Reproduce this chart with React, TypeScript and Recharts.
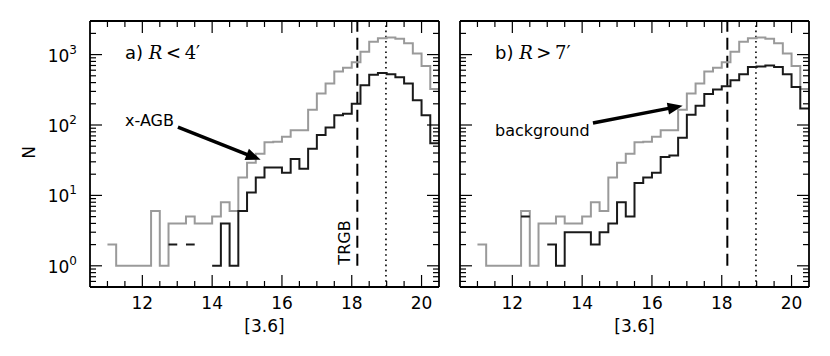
import React from 'react';
import { LineChart, Line, XAxis, YAxis, ReferenceLine } from 'recharts';

// histogram bins: 0.25 mag wide, first edge at 11.0
const binStart = 11.0;
const binWidth = 0.25;

// all sources (gray, same in both panels)
const allCounts = [
  2, 1, 1, 1, 1, 6, 1, 4, 4, 5, 4, 4, 5, 8, 6, 18, 29, 39, 57, 58, 68, 84, 84, 165, 280, 390, 575, 650, 780, 1100,
  1520, 1700, 1750, 1680, 1450, 1040, 690, 325,
];
// panel a, R < 4'
const innerCounts = [
  0, 0, 0, 0, 0, 0, 0, 2, 0, 2, 0, 0, 1, 4, 1, 6, 11, 18, 25, 25, 21, 33, 24, 46, 72, 92, 138, 145, 201, 366, 519,
  547, 525, 478, 387, 225, 138, 55,
];
// panel b, R > 7'
const outerCounts = [
  0, 0, 0, 0, 0, 5, 0, 0, 2, 1, 3, 3, 3, 2, 3, 4, 8, 5, 15, 18, 21, 35, 37, 66, 140, 188, 276, 318, 354, 431, 525,
  665, 680, 700, 665, 525, 347, 171,
];

const xMajor = [12, 14, 16, 18, 20];
const xTicks = [11, 11.5, 12, 12.5, 13, 13.5, 14, 14.5, 15, 15.5, 16, 16.5, 17, 17.5, 18, 18.5, 19, 19.5, 20];
const yMajor = [1, 10, 100, 1000];
const yExp: Record<number, string> = { 1: '0', 10: '1', 100: '2', 1000: '3' };
const yTicks = [
  0.5, 0.6, 0.7, 0.8, 0.9, 1, 2, 3, 4, 5, 6, 7, 8, 9, 10, 20, 30, 40, 50, 60, 70, 80, 90, 100, 200, 300, 400, 500,
  600, 700, 800, 900, 1000, 2000,
];

const trgbMag = 18.16;
const peakMag = 18.98;

// arrows: [from, to] in data units
const agbArrow = [{ x: 13.02, y: 93 }, { x: 15.39, y: 32 }];
const bgArrow = [{ x: 14.31, y: 107 }, { x: 16.88, y: 188 }];

const TOP = 21;
const BOTTOM = 287;
const FONT = 'DejaVu Sans';

function toSteps(counts: number[]) {
  const pts: { x: number; y: number | null }[] = [];
  counts.forEach((n, i) => {
    const lo = binStart + i * binWidth;
    const hi = lo + binWidth;
    if (n > 0) {
      pts.push({ x: lo, y: n });
      pts.push({ x: hi, y: n });
    } else {
      pts.push({ x: lo + binWidth / 2, y: null });
    }
  });
  return pts;
}

const Arrow = (p: any) => {
  const { x1, y1, x2, y2 } = p;
  const dx = x2 - x1;
  const dy = y2 - y1;
  const L = Math.hypot(dx, dy) || 1;
  const ux = dx / L;
  const uy = dy / L;
  const hl = 15;
  const hw = 6;
  const bx = x2 - ux * hl;
  const by = y2 - uy * hl;
  return (
    <g>
      <line x1={x1} y1={y1} x2={bx + ux * 2} y2={by + uy * 2} stroke="#000" strokeWidth={3.5} />
      <polygon points={`${x2},${y2} ${bx - uy * hw},${by + ux * hw} ${bx + uy * hw},${by - ux * hw}`} fill="#000" />
    </g>
  );
};

function Panel({ counts, plotLeft, plotRight, width, showYLabels, arrow }: any) {
  const bottomTick = (props: any) => {
    const { x, payload } = props;
    const major = xMajor.includes(payload.value);
    return (
      <g>
        <line x1={x} x2={x} y1={BOTTOM} y2={BOTTOM - (major ? 12 : 6)} stroke="#000" strokeWidth={1.2} />
        {major && (
          <text x={x} y={308.5} textAnchor="middle" fontFamily={FONT} fontSize={17} fill="#000">
            {payload.value}
          </text>
        )}
      </g>
    );
  };
  const topTick = (props: any) => {
    const { x, payload } = props;
    const major = xMajor.includes(payload.value);
    return <line x1={x} x2={x} y1={TOP} y2={TOP + (major ? 12 : 6)} stroke="#000" strokeWidth={1.2} />;
  };
  const leftTick = (props: any) => {
    const { y, payload } = props;
    const major = yMajor.includes(payload.value);
    return (
      <g>
        <line x1={plotLeft} x2={plotLeft + (major ? 12 : 6)} y1={y} y2={y} stroke="#000" strokeWidth={1.2} />
        {major && showYLabels && (
          <text x={77} y={y + 7} textAnchor="end" fontFamily={FONT} fontSize={17} fill="#000">
            10
            <tspan dy={-8} fontSize={12}>
              {yExp[payload.value]}
            </tspan>
          </text>
        )}
      </g>
    );
  };
  const rightTick = (props: any) => {
    const { y, payload } = props;
    const major = yMajor.includes(payload.value);
    return <line x1={plotRight} x2={plotRight - (major ? 12 : 6)} y1={y} y2={y} stroke="#000" strokeWidth={1.2} />;
  };
  const axisLine = { stroke: '#000', strokeWidth: 1.8 };

  return (
    <LineChart width={width} height={356} margin={{ top: 0, right: 0, bottom: 0, left: 0 }}>
      <XAxis
        dataKey="x"
        type="number"
        domain={[10.5, 20.5]}
        allowDataOverflow
        ticks={xTicks}
        interval={0}
        tick={bottomTick}
        tickLine={false}
        tickSize={0}
        axisLine={axisLine}
        height={356 - BOTTOM}
      />
      <XAxis
        xAxisId="top"
        orientation="top"
        dataKey="x"
        type="number"
        domain={[10.5, 20.5]}
        allowDataOverflow
        ticks={xTicks}
        interval={0}
        tick={topTick}
        tickLine={false}
        tickSize={0}
        axisLine={axisLine}
        height={TOP}
      />
      <YAxis
        type="number"
        scale="log"
        domain={[0.5, 3000]}
        allowDataOverflow
        ticks={yTicks}
        interval={0}
        tick={leftTick}
        tickLine={false}
        tickSize={0}
        axisLine={axisLine}
        width={plotLeft}
      />
      <YAxis
        yAxisId="right"
        orientation="right"
        type="number"
        scale="log"
        domain={[0.5, 3000]}
        allowDataOverflow
        ticks={yTicks}
        interval={0}
        tick={rightTick}
        tickLine={false}
        tickSize={0}
        axisLine={axisLine}
        width={width - plotRight}
      />
      <ReferenceLine
        segment={[
          { x: trgbMag, y: 1 },
          { x: trgbMag, y: 3000 },
        ]}
        stroke="#000"
        strokeWidth={2}
        strokeDasharray="12 6"
      />
      <ReferenceLine x={peakMag} stroke="#000" strokeWidth={1.6} strokeDasharray="1.6 3.6" />
      <Line
        data={toSteps(allCounts)}
        dataKey="y"
        type="linear"
        stroke="#9a9a9a"
        strokeWidth={2}
        dot={false}
        isAnimationActive={false}
      />
      <Line
        data={toSteps(counts)}
        dataKey="y"
        type="linear"
        stroke="#1a1a1a"
        strokeWidth={2}
        dot={false}
        isAnimationActive={false}
      />
      <ReferenceLine segment={arrow} shape={Arrow} ifOverflow="visible" />
    </LineChart>
  );
}

export default function App() {
  return (
    <div style={{ position: 'absolute', left: 0, top: 0, width: 830, height: 356, background: '#fff' }}>
      <div style={{ position: 'absolute', left: 0, top: 0 }}>
        <Panel counts={innerCounts} plotLeft={90} plotRight={439} width={450} showYLabels arrow={agbArrow} />
      </div>
      <div style={{ position: 'absolute', left: 450, top: 0 }}>
        <Panel counts={outerCounts} plotLeft={10} plotRight={359} width={380} showYLabels={false} arrow={bgArrow} />
      </div>
      <svg
        width={830}
        height={356}
        style={{ position: 'absolute', left: 0, top: 0, pointerEvents: 'none' }}
        fontFamily={FONT}
        fill="#000"
      >
        <text x={35} y={152.5} fontSize={17} textAnchor="middle" transform="rotate(-90 35 152.5)">
          N
        </text>
        <text x={264.5} y={331.5} fontSize={17} textAnchor="middle">
          [3.6]
        </text>
        <text x={634.5} y={331.5} fontSize={17} textAnchor="middle">
          [3.6]
        </text>
        <text x={125} y={59} fontSize={18}>
          a){'\u00a0'}
          <tspan fontFamily="DejaVu Serif" fontStyle="italic">
            R
          </tspan>
          <tspan fontFamily="DejaVu Serif">{'\u2009<\u20094\u2032'}</tspan>
        </text>
        <text x={495} y={59} fontSize={18}>
          b){'\u00a0'}
          <tspan fontFamily="DejaVu Serif" fontStyle="italic">
            R
          </tspan>
          <tspan fontFamily="DejaVu Serif">{'\u2009>\u20097\u2032'}</tspan>
        </text>
        <text x={125} y={126} fontSize={16}>
          x-AGB
        </text>
        <text x={495} y={136} fontSize={16}>
          background
        </text>
        <text x={350} y={242.5} fontSize={16} textAnchor="middle" transform="rotate(-90 350 242.5)">
          TRGB
        </text>
      </svg>
    </div>
  );
}
